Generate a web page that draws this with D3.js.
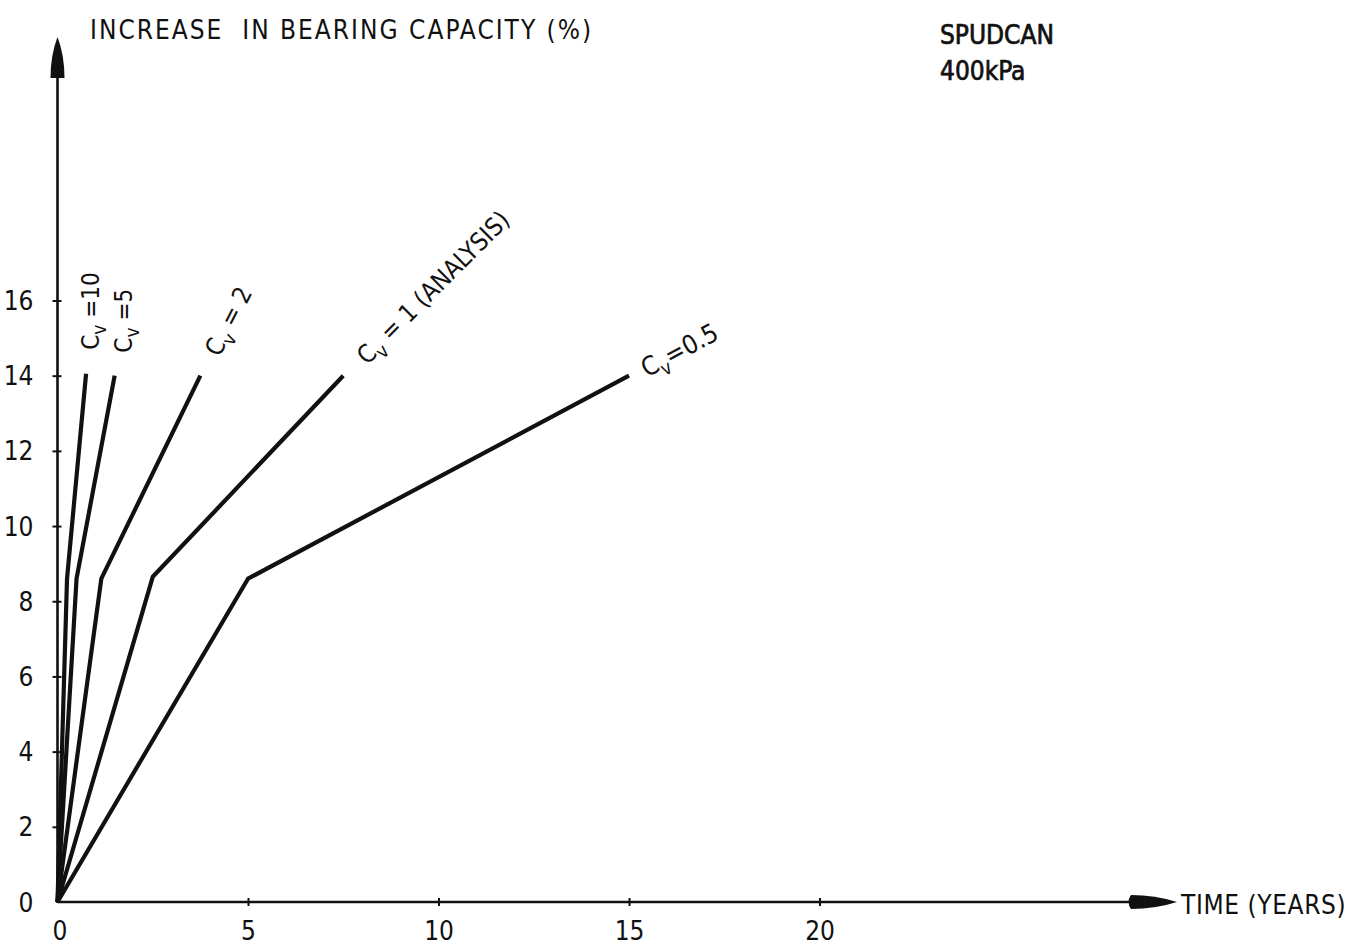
<!DOCTYPE html>
<html>
<head>
<meta charset="utf-8">
<script src="https://cdn.jsdelivr.net/npm/d3@7"></script>
<style>
  html, body { margin: 0; padding: 0; background: #fff; }
  svg { display: block; }
  text { font-family: "Liberation Sans Narrow", "DejaVu Sans Condensed", "Liberation Sans", sans-serif; fill: #111; }
</style>
</head>
<body>
<svg id="chart" width="1354" height="949"></svg>
<script>
// Consolidation curves: bearing-capacity increase vs. time for a spudcan at 400 kPa
const cvValues      = [10, 5, 2, 1, 0.5];
const cvSuffix      = [" =10", " =5", " = 2", " = 1 (ANALYSIS)", "=0.5"];
const kneeTime      = [0.25, 0.5, 1.15, 2.5, 5];      // years
const kneeIncrease  = [8.6, 8.6, 8.6, 8.65, 8.6];     // %
const endTime       = [0.75, 1.5, 3.75, 7.5, 15];     // years
const endIncrease   = [14.05, 14.0, 14.0, 14.0, 14.0]; // %
const xTickValues   = [0, 5, 10, 15, 20];
const yTickValues   = [0, 2, 4, 6, 8, 10, 12, 14, 16];

const svg = d3.select("#chart");
const ink = "#111";

const x = d3.scaleLinear().domain([0, 30]).range([57.5, 57.5 + 30 * 38.1]);
const y = d3.scaleLinear().domain([0, 16]).range([902, 300.5]);

// Axis lines with arrowheads
const x0 = x(0), y0 = y(0);
const xEnd = 1177, yEnd = 37;
svg.append("line").attr("x1", x0).attr("y1", y0).attr("x2", xEnd - 10).attr("y2", y0)
  .attr("stroke", ink).attr("stroke-width", 2.6);
svg.append("line").attr("x1", x0).attr("y1", y0 + 1).attr("x2", x0).attr("y2", yEnd + 10)
  .attr("stroke", ink).attr("stroke-width", 2.6);

svg.append("path")
  .attr("d", `M${x0},${yEnd} Q${x0 + 7},${yEnd + 18} ${x0 + 7},${yEnd + 41} L${x0 - 7},${yEnd + 41} Q${x0 - 7},${yEnd + 18} ${x0},${yEnd} Z`)
  .attr("fill", ink);
svg.append("path")
  .attr("d", `M${xEnd},${y0} Q${xEnd - 22},${y0 - 7} ${xEnd - 46},${y0 - 7} Q${xEnd - 51},${y0} ${xEnd - 46},${y0 + 7} Q${xEnd - 22},${y0 + 7} ${xEnd},${y0} Z`)
  .attr("fill", ink);

// Tick marks crossing the axes
const xAxis = d3.axisBottom(x).tickValues(xTickValues).tickSize(4).tickFormat(d3.format("d"));
const gx = svg.append("g").attr("transform", `translate(0,${y0})`).call(xAxis);
gx.select(".domain").remove();
gx.selectAll(".tick line").attr("y1", -4).attr("y2", 4).attr("stroke", ink).attr("stroke-width", 2);
gx.selectAll(".tick text").attr("y", 20).attr("dy", "0.71em").attr("font-size", 26)
  .attr("font-family", null).style("fill", ink);
gx.selectAll(".tick").filter(d => d === 0).select("line").remove();
gx.selectAll(".tick").filter(d => d === 0).select("text").attr("x", 2);

const yAxis = d3.axisLeft(y).tickValues(yTickValues).tickSize(5).tickFormat(d3.format("d"));
const gy = svg.append("g").attr("transform", `translate(${x0},0)`).call(yAxis);
gy.select(".domain").remove();
gy.selectAll(".tick line").attr("x1", -5).attr("x2", 4).attr("stroke", ink).attr("stroke-width", 2);
gy.selectAll(".tick text").attr("x", -24).attr("dy", "0.35em").attr("font-size", 26)
  .attr("font-family", null).style("fill", ink);
gy.selectAll(".tick").filter(d => d === 0).select("line").remove();

// Curves
const line = d3.line().x(d => x(d[0])).y(d => y(d[1]));
cvValues.forEach((cv, i) => {
  const pts = [[0, 0], [kneeTime[i], kneeIncrease[i]], [endTime[i], endIncrease[i]]];
  svg.append("path").datum(pts).attr("d", line)
    .attr("fill", "none").attr("stroke", ink).attr("stroke-width", 4.2)
    .attr("stroke-linejoin", "round").attr("stroke-linecap", "butt");
});

// Curve labels: placed past the end of each curve, rotated along it
const labelPos = [
  { dx: 13, dy: -24, rot: -90, size: 24 },
  { dx: 17, dy: -23, rot: -90, size: 24 },
  { dx: 19, dy: -18, rot: -63, size: 25 },
  { dx: 24, dy: -10, rot: -45, size: 25 },
  { dx: 18, dy: 2, rot: -28, size: 26 }
];
cvValues.forEach((cv, i) => {
  const p = labelPos[i];
  const px = x(endTime[i]) + p.dx;
  const py = y(endIncrease[i]) + p.dy;
  const t = svg.append("text")
    .attr("transform", `translate(${px},${py}) rotate(${p.rot})`)
    .attr("font-size", p.size)
    .attr("xml:space", "preserve").style("white-space", "pre");
  t.append("tspan").text("C");
  t.append("tspan").attr("dy", 7).attr("font-size", 19).text("v");
  t.append("tspan").attr("dy", -7).text(cvSuffix[i]);
});

// Titles
svg.append("text").attr("x", 90).attr("y", 39).attr("font-size", 26)
  .attr("letter-spacing", 2)
  .style("white-space", "pre").attr("xml:space", "preserve")
  .text("INCREASE  IN BEARING CAPACITY (%)");
svg.append("text").attr("x", 1181).attr("y", 914).attr("font-size", 26)
  .attr("letter-spacing", 0.6)
  .text("TIME (YEARS)");
svg.append("text").attr("x", 940).attr("y", 44).attr("font-size", 26)
  .attr("stroke", ink).attr("stroke-width", 0.7)
  .text("SPUDCAN");
svg.append("text").attr("x", 940).attr("y", 80).attr("font-size", 26)
  .attr("stroke", ink).attr("stroke-width", 0.7)
  .text("400kPa");
</script>
</body>
</html>
